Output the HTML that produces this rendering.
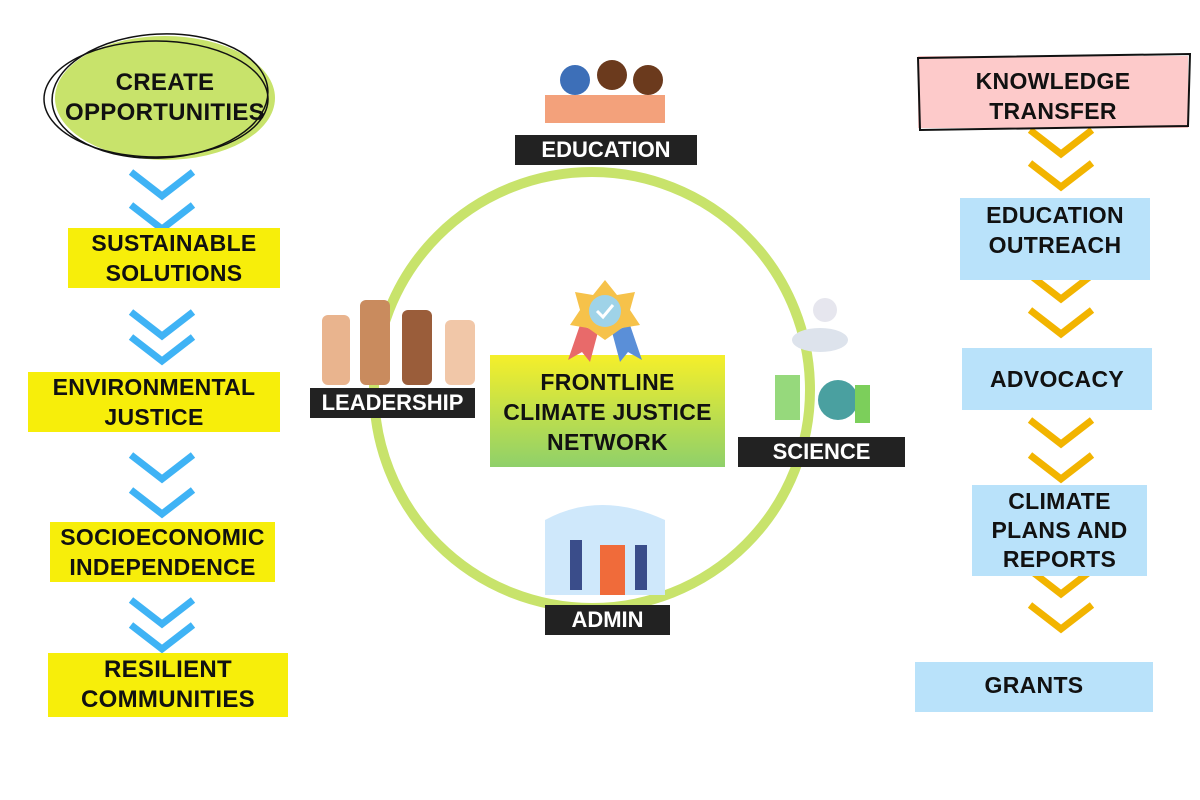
<!DOCTYPE html>
<html><head><meta charset="utf-8"><style>
body{margin:0;width:1200px;height:800px;background:#fff;position:relative;overflow:hidden;font-family:"Liberation Sans",sans-serif}
.t{position:absolute;font-weight:bold;color:#111;text-align:center;line-height:30px;font-size:23px;letter-spacing:0.3px}
.y{background:#f7ee0a}
.b{background:#b9e2fa}
.k{position:absolute;background:#222;color:#fff;font-weight:bold;font-size:22px;text-align:center;line-height:30px}
</style></head><body>
<svg width="1200" height="800" style="position:absolute;left:0;top:0">
<g fill="none" stroke="#3fb3f5" stroke-width="7">
<path d="M131 172 L162 196 L193 172"/><path d="M131 205 L162 229 L193 205"/>
<path d="M131 312 L162 336 L193 312"/><path d="M131 337 L162 361 L193 337"/>
<path d="M131 455 L162 479 L193 455"/><path d="M131 490 L162 514 L193 490"/>
<path d="M131 600 L162 624 L193 600"/><path d="M131 625 L162 649 L193 625"/>
</g>
<g fill="none" stroke="#f2b400" stroke-width="7">
<path d="M1030 130 L1061 154 L1092 130"/><path d="M1030 163 L1061 187 L1092 163"/>
<path d="M1030 275 L1061 299 L1092 275"/><path d="M1030 310 L1061 334 L1092 310"/>
<path d="M1030 420 L1061 444 L1092 420"/><path d="M1030 455 L1061 479 L1092 455"/>
<path d="M1030 570 L1061 594 L1092 570"/><path d="M1030 605 L1061 629 L1092 605"/>
</g>
<circle cx="592" cy="390" r="218" fill="none" stroke="#c8e36b" stroke-width="10"/>
<ellipse cx="165" cy="98" rx="110" ry="62" fill="#c8e36b"/>
<ellipse cx="156" cy="99" rx="112" ry="58" fill="none" stroke="#111" stroke-width="1.5"/>
<ellipse cx="160" cy="96" rx="108" ry="62" fill="none" stroke="#111" stroke-width="1.5" transform="rotate(-3 160 96)"/>
<rect x="918" y="56" width="270" height="72" fill="#fdcaca"/>
<path d="M918 58 L1190 54 L1188 126 L920 130 Z" fill="none" stroke="#111" stroke-width="2"/>
<defs><linearGradient id="g" x1="0" y1="0" x2="0" y2="1"><stop offset="0" stop-color="#f5ef2a"/><stop offset="1" stop-color="#8fd06a"/></linearGradient></defs>
<rect x="490" y="355" width="235" height="112" fill="url(#g)"/>
<!-- medal -->
<path d="M580 325 L568 360 L582 352 L590 362 L598 332 Z" fill="#e86a6a"/>
<path d="M630 325 L642 360 L628 352 L620 362 L612 332 Z" fill="#5a8fd8"/>
<polygon points="605,280 617,295 635,292 630,310 640,325 622,328 605,340 588,328 570,325 580,310 575,292 593,295" fill="#f6c24a"/>
<circle cx="605" cy="311" r="16" fill="#9fd3e8"/>
<path d="M597 311 L603 317 L613 305" stroke="#fff" stroke-width="3" fill="none"/>
<!-- fists -->
<g fill="#e9b48e"><rect x="322" y="315" width="28" height="70" rx="6"/></g>
<rect x="360" y="300" width="30" height="85" rx="6" fill="#c98b5e"/>
<rect x="402" y="310" width="30" height="75" rx="6" fill="#9a5d3a"/>
<rect x="445" y="320" width="30" height="65" rx="6" fill="#f1c7a8"/>
<!-- education kids -->
<circle cx="575" cy="80" r="15" fill="#3d6fb8"/><circle cx="612" cy="75" r="15" fill="#6b3a1d"/><circle cx="648" cy="80" r="15" fill="#6b3a1d"/>
<rect x="545" y="95" width="120" height="28" fill="#f08a5a" opacity="0.8"/>
<!-- science -->
<ellipse cx="820" cy="340" rx="28" ry="12" fill="#dde3ec"/><circle cx="825" cy="310" r="12" fill="#e6e6ee"/>
<rect x="775" y="375" width="25" height="45" fill="#7ccf5b" opacity="0.8"/>
<circle cx="838" cy="400" r="20" fill="#4aa0a0"/><rect x="855" y="385" width="15" height="38" fill="#7ccf5b"/>
<!-- admin -->
<path d="M545 520 Q600 490 665 520 L665 595 L545 595 Z" fill="#cfe8fb"/>
<rect x="600" y="545" width="25" height="50" fill="#f06b3a"/>
<rect x="570" y="540" width="12" height="50" fill="#3a4d8a"/><rect x="635" y="545" width="12" height="45" fill="#3a4d8a"/>
</svg>
<div class="t" style="left:55px;top:68px;width:220px;font-size:24px">CREATE<br>OPPORTUNITIES</div>
<div class="t y" style="left:68px;top:228px;width:212px">SUSTAINABLE<br>SOLUTIONS</div>
<div class="t y" style="left:28px;top:372px;width:252px">ENVIRONMENTAL<br>JUSTICE</div>
<div class="t y" style="left:50px;top:522px;width:225px">SOCIOECONOMIC<br>INDEPENDENCE</div>
<div class="t y" style="left:48px;top:653px;width:240px;font-size:24px;padding:2px 0">RESILIENT<br>COMMUNITIES</div>
<div class="t" style="left:918px;top:66px;width:270px">KNOWLEDGE<br>TRANSFER</div>
<div class="t b" style="left:960px;top:198px;width:190px;padding:2px 0 20px">EDUCATION<br>OUTREACH</div>
<div class="t b" style="left:962px;top:348px;width:190px;padding:16px 0">ADVOCACY</div>
<div class="t b" style="left:972px;top:485px;width:175px;line-height:29px;padding:2px 0">CLIMATE<br>PLANS AND<br>REPORTS</div>
<div class="t b" style="left:915px;top:662px;width:238px;padding:8px 0 12px">GRANTS</div>
<div class="t" style="left:490px;top:367px;width:235px">FRONTLINE<br>CLIMATE JUSTICE<br>NETWORK</div>
<div class="k" style="left:515px;top:135px;width:182px">EDUCATION</div>
<div class="k" style="left:310px;top:388px;width:165px">LEADERSHIP</div>
<div class="k" style="left:738px;top:437px;width:167px">SCIENCE</div>
<div class="k" style="left:545px;top:605px;width:125px">ADMIN</div>
</body></html>
